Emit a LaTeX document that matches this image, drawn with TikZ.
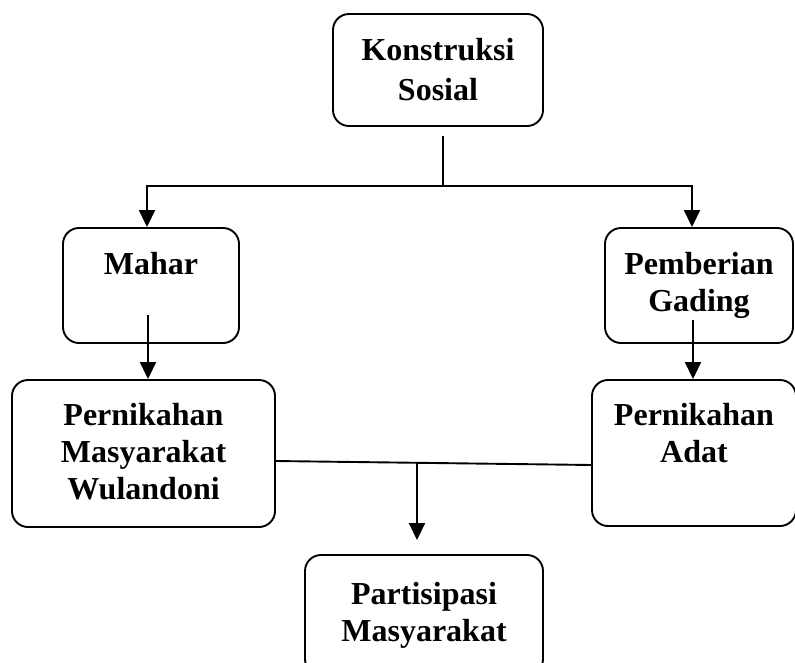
\documentclass[tikz,border=0pt]{standalone}
\usepackage{fontspec}
\setmainfont{Liberation Serif}
\usepackage{tikz}
\usetikzlibrary{arrows.meta,positioning}

\begin{document}
\begin{tikzpicture}[x=1pt,y=-1pt,line width=1.9pt,
  box node/.style={draw,rounded corners=16pt,inner sep=0pt},
  text node/.style={inner sep=0pt,align=center,font=\bfseries\fontsize{32}{37}\selectfont},
  arrow/.style={-{Triangle[length=17pt,width=16pt]}}]

  \clip (0,0) rectangle (795,662);

  \node[box node,minimum width=210pt,minimum height=112pt] (konstruksi) at (438,70) {};
  \node[box node,minimum width=176pt,minimum height=115pt] (mahar) at (151,285.5) {};
  \node[box node,minimum width=188pt,minimum height=115pt] (pemberian) at (699,285.5) {};
  \node[box node,minimum width=263pt,minimum height=147pt] (wulandoni) at (143.5,453.5) {};
  \node[box node,minimum width=204pt,minimum height=146pt] (adat) at (694,453) {};
  \node[box node,minimum width=238pt,minimum height=120pt] (partisipasi) at (424,615) {};

  \node[text node] (konstruksi text) [below=24pt of konstruksi.north] {Konstruksi\\[3pt]Sosial};
  \node[text node] (mahar text) [below=24pt of mahar.north] {Mahar};
  \node[text node] (pemberian text) [below=24pt of pemberian.north] {Pemberian\\Gading};
  \node[text node] (wulandoni text) [below=23pt of wulandoni.north] {Pernikahan\\Masyarakat\\Wulandoni};
  \node[text node] (adat text) [below=23pt of adat.north] {Pernikahan\\Adat};
  \node[text node] (partisipasi text) [below=27pt of partisipasi.north] {Partisipasi\\Masyarakat};

  % top split
  \coordinate (top split) at (443,136);
  \coordinate (split) at (443,186);
  \coordinate (split left) at (147,186);
  \coordinate (split right) at (692,186);
  \draw (top split) -- (split);
  \draw[arrow] (split) -- (split left) -- (split left |- mahar.north);
  \draw[arrow] (split) -- (split right) -- (split right |- pemberian.north);

  % down to the marriages
  \coordinate (mahar out) at (148,315);
  \coordinate (pemberian out) at (693,320);
  \draw[arrow] (mahar out) -- (mahar out |- wulandoni.north);
  \draw[arrow] (pemberian out) -- (pemberian out |- adat.north);

  % join
  \coordinate (join left) at (275,461);
  \coordinate (join right) at (592,465);
  \coordinate (join) at (417,463);
  \coordinate (join end) at (417,540);
  \draw (join left) -- (join right);
  \draw[arrow] (join) -- (join end);
\end{tikzpicture}
\end{document}
